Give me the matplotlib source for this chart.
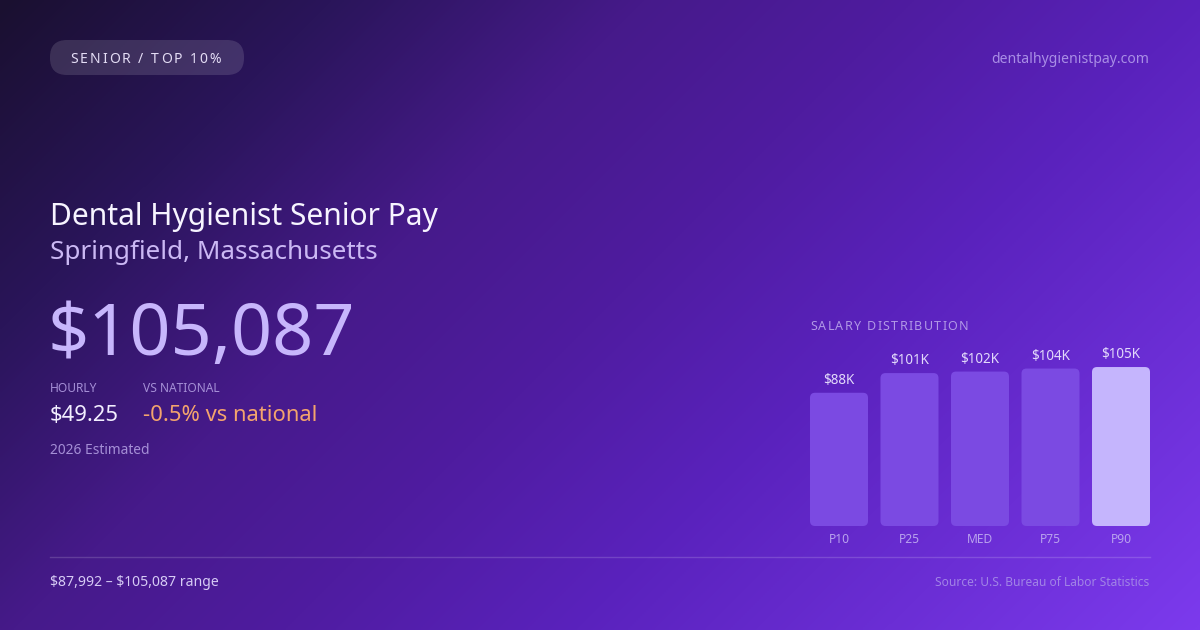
import numpy as np
import matplotlib
matplotlib.use("Agg")
import matplotlib.pyplot as plt
from matplotlib.patches import FancyBboxPatch
from matplotlib.colors import LinearSegmentedColormap

# ---- data ----
categories = ["P10", "P25", "MED", "P75", "P90"]
values_k = [88, 101, 102, 104, 105]
value_labels = ["$88K", "$101K", "$102K", "$104K", "$105K"]

badge = "SENIOR / TOP 10%"
site = "dentalhygienistpay.com"
title = "Dental Hygienist Senior Pay"
subtitle = "Springfield, Massachusetts"
big_salary = "$105,087"
hourly_label = "HOURLY"
hourly_value = "$49.25"
vs_label = "VS NATIONAL"
vs_value = "-0.5% vs national"
estimate_note = "2026 Estimated"
dist_title = "SALARY DISTRIBUTION"
range_text = "$87,992 \u2013 $105,087 range"
source_text = "Source: U.S. Bureau of Labor Statistics"

W, H = 1200, 630
FONT = ["Noto Sans", "DejaVu Sans"]
plt.rcParams["font.family"] = FONT

fig = plt.figure(figsize=(W / 100, H / 100), dpi=100)

# ---- background gradient ----
bg = fig.add_axes([0, 0, 1, 1])
bg.set_xlim(0, W)
bg.set_ylim(H, 0)
bg.axis("off")
xx, yy = np.meshgrid(np.linspace(0, W, 600), np.linspace(0, H, 315))
t = (xx + yy) / (W + H)
cmap = LinearSegmentedColormap.from_list(
    "bg",
    [(0.0, "#1a1030"), (0.18, "#2a155a"), (0.35, "#461a8a"), (0.5, "#4f1ca0"),
     (0.66, "#5a22bd"), (1.0, "#7c3aed")],
)
bg.imshow(cmap(t), extent=[0, W, H, 0], aspect="auto", interpolation="bilinear", zorder=0)


def px(size):
    return size * 0.72


def txt(x, y, s, size, color, ha="left", va="baseline", weight="normal"):
    return bg.text(x, y, s, fontsize=px(size), color=color, ha=ha, va=va,
                   fontweight=weight, zorder=5, parse_math=False)


renderer = fig.canvas.get_renderer()


def spaced(x, y, s, size, color, spacing):
    # letter-spaced text, measured with prefix widths
    for i, ch in enumerate(s):
        if i == 0:
            w = 0.0
        else:
            tmp = bg.text(0, 0, s[:i] + "|", fontsize=px(size), parse_math=False)
            bar = bg.text(0, 0, "|", fontsize=px(size), parse_math=False)
            w = tmp.get_window_extent(renderer).width - bar.get_window_extent(renderer).width
            tmp.remove()
            bar.remove()
        txt(x + w + i * spacing, y, ch, size, color)


# badge pill
pill = FancyBboxPatch((50, 40), 194, 35, boxstyle="round,pad=0,rounding_size=17",
                      mutation_aspect=1, facecolor=(1, 1, 1, 0.13), edgecolor="none", zorder=3)
bg.add_patch(pill)
spaced(70, 63, badge, 14, "#e4ddf5", 2.0)

txt(1149, 63, site, 14, "#a98ee6", ha="right")

txt(50, 225, title, 30, "#f7f4ff")
txt(50, 259, subtitle, 26, "#cbb8f4")
txt(47, 355, big_salary, 72, "#c7b6fc")

txt(50, 392, hourly_label, 12, "#a58fd6")
txt(143, 392, vs_label, 12, "#a58fd6")
txt(50, 421, hourly_value, 22, "#f2eeff")
txt(143, 421, vs_value, 22, "#f4a46d")
txt(50, 454, estimate_note, 13.8, "#a58fd6")

spaced(810, 330, dist_title, 12.5, "#b198e6", 1.3)

bg.plot([50, 1150], [556.5, 556.5], color=(1, 1, 1, 0.16), lw=1, zorder=4)
txt(50, 586, range_text, 14, "#d6cbf5")
txt(1149, 586, source_text, 12, "#a184e6", ha="right")

# ---- bar chart ----
step = 70.5
bw_px = 58.0
ppk = 1.514  # pixels per $K
left_px, right_px = 810, 1150
bottom_px, top_px = 526, 326
ax = fig.add_axes([left_px / W, 1 - bottom_px / H, (right_px - left_px) / W,
                   (bottom_px - top_px) / H])
ax.set_xlim(-bw_px / 2 / step, len(categories) - 1 + bw_px / 2 / step)
ax.set_ylim(0, (bottom_px - top_px) / ppk)
ax.axis("off")
ax.patch.set_alpha(0)

xs = np.arange(len(categories))
colors = ["#7b4ae2"] * (len(categories) - 1) + ["#c5b5fd"]
bars = ax.bar(xs, values_k, width=bw_px / step, color=colors)
r_px = 5
x_per_px = 1 / step
y_per_px = 1 / ppk
for b, c in zip(bars, colors):
    x0, y0 = b.get_x(), b.get_y()
    w, h = b.get_width(), b.get_height()
    b.set_visible(False)
    fb = FancyBboxPatch((x0, y0), w, h,
                        boxstyle=f"round,pad=0,rounding_size={r_px * x_per_px}",
                        mutation_aspect=y_per_px / x_per_px,
                        facecolor=c, edgecolor="none")
    ax.add_patch(fb)

for x, v, lab in zip(xs, values_k, value_labels):
    ax.annotate(lab, (x, v), xytext=(0, 5), textcoords="offset pixels",
                ha="center", va="bottom", fontsize=px(13.5), color="#e2d9fb")
for x, cat in zip(xs, categories):
    ax.annotate(cat, (x, 0), xytext=(0, -17), textcoords="offset pixels",
                ha="center", va="baseline", fontsize=px(12), color="#b9a2ee",
                annotation_clip=False)

fig.savefig("out.png", dpi=100)
